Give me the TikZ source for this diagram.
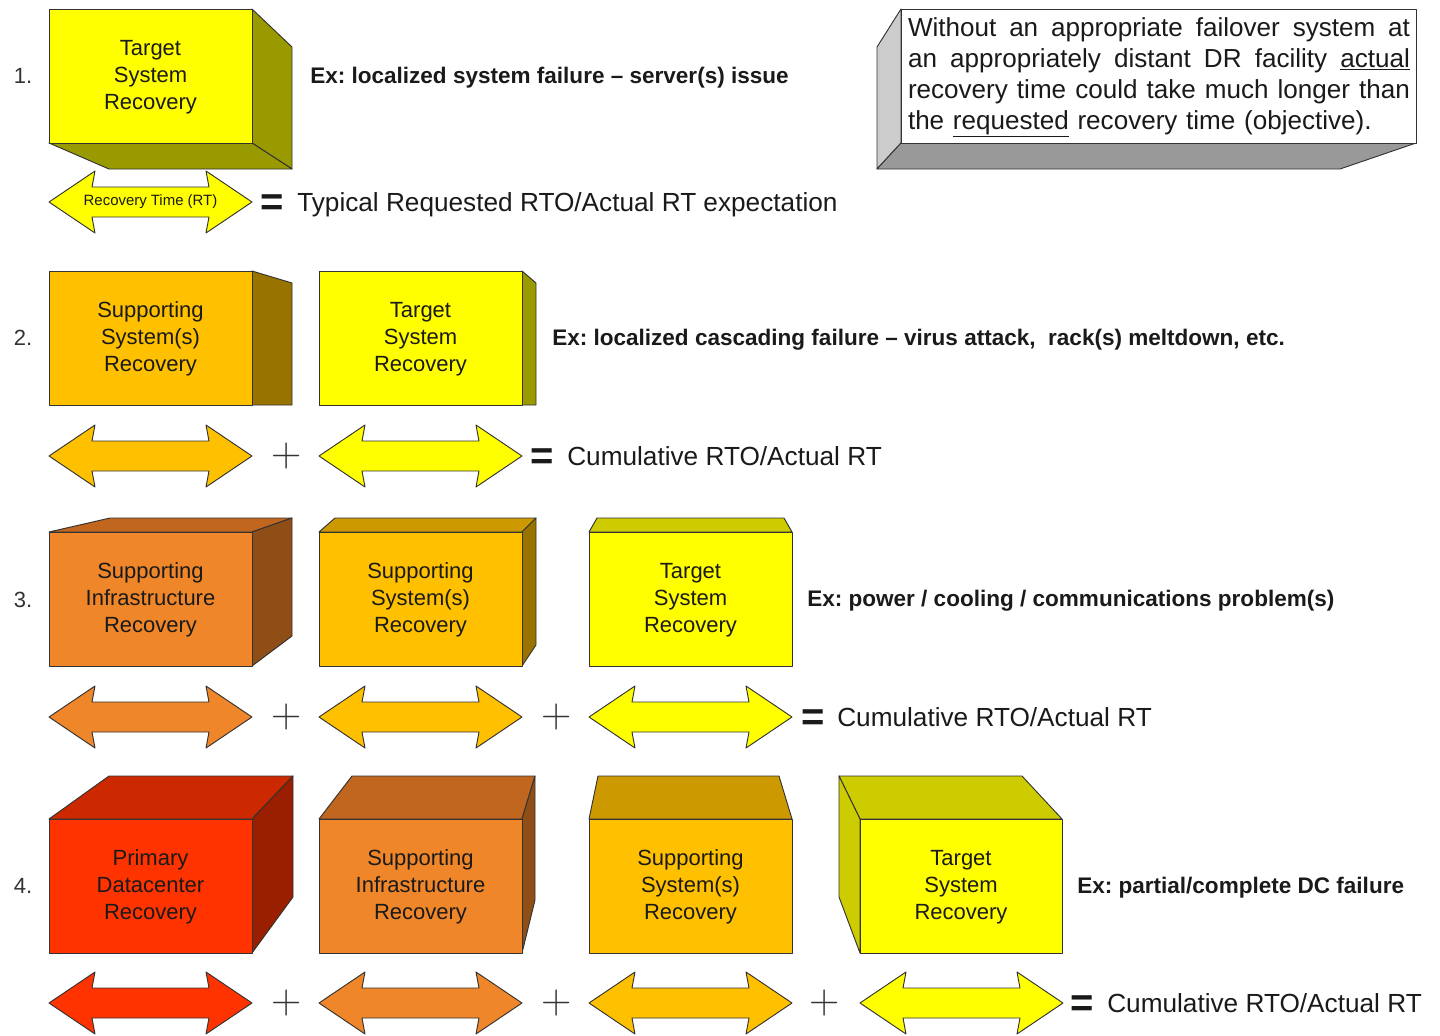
\documentclass[tikz,border=0pt]{standalone}
\usepackage{fontspec}
\setsansfont{Liberation Sans}
\renewcommand{\familydefault}{\sfdefault}
\frenchspacing
\definecolor{ylwF}{HTML}{FFFF00}
\definecolor{ylwS}{HTML}{999900}
\definecolor{ylwT}{HTML}{CCCC00}
\definecolor{ambF}{HTML}{FFC000}
\definecolor{ambS}{HTML}{997300}
\definecolor{ambT}{HTML}{CC9900}
\definecolor{orgF}{HTML}{F0862A}
\definecolor{orgS}{HTML}{904E17}
\definecolor{orgT}{HTML}{C0661F}
\definecolor{redF}{HTML}{FF3300}
\definecolor{redS}{HTML}{991F00}
\definecolor{redT}{HTML}{CC2900}
\definecolor{greyL}{HTML}{CCCCCC}
\definecolor{greyB}{HTML}{999999}
\definecolor{ink}{HTML}{1A1A1A}
\newcommand{\rtarrow}[3]{\draw[face, fill=#3, shift={(#1,#2)}] (0,0) -- (46,-31) -- (43,-15) -- (160,-15) -- (157,-31) -- (203,0) -- (157,31) -- (160,15) -- (43,15) -- (46,31) -- cycle;}
\newcommand{\notefont}{\fontsize{19.55}{23.25}\selectfont}
\newcommand{\jline}[1]{\leavevmode\hbox to 376.5pt{\spaceskip=0.278em plus 1fil\relax #1}}
\begin{document}
\begin{tikzpicture}[x=0.75pt,y=-0.75pt,
  face/.style={draw=black!80, line width=0.7pt, line join=round},
  boxtxt/.style={font=\fontsize{16.5}{20.25}\selectfont, align=center, text=ink, inner sep=0pt},
  numtxt/.style={font=\fontsize{16.5}{20}\selectfont, text=black!80, anchor=base, inner sep=0pt},
  extxt/.style={font=\fontsize{16.9}{20}\selectfont\bfseries, text=ink, anchor=base west, inner sep=0pt},
  bigtxt/.style={font=\fontsize{19.65}{23}\selectfont, text=ink, anchor=base west, inner sep=0pt},
  plustxt/.style={font=\rmfamily\fontsize{31.5}{32}\selectfont, text=black!80, inner sep=0pt},
  eqtxt/.style={font=\bfseries\fontsize{30}{30}\selectfont, text=ink, anchor=base, inner sep=0pt},
  smalltxt/.style={font=\fontsize{11.2}{13}\selectfont, text=ink, inner sep=0pt}
]
\useasboundingbox (0,0) rectangle (1440,1036);

% ---------- Row 1 ----------
\node[numtxt] (n1) at (23,83) {1.};
\draw[face, fill=ylwS] (252,9) -- (292,47) -- (292,169) -- (252,143) -- cycle;
\draw[face, fill=ylwS] (49,143) -- (109,169) -- (292,169) -- (252,143) -- cycle;
\draw[face, fill=ylwF] (49,9) rectangle (252,143);
\node[boxtxt] (b1) at (150.5,77) {Target\\System\\Recovery};
\node[extxt] (ex1) at (310,83) {Ex: localized system failure -- server(s) issue};
\rtarrow{49}{202}{ylwF}
\node[smalltxt] (rt1) at (150.5,202) {Recovery Time (RT)};
\node[eqtxt] (eq1) at (272,215) {=};
\node[bigtxt] (res1) at (297,211.4) {Typical Requested RTO/Actual RT expectation};

% ---------- Note ----------
\draw[face, fill=greyL] (901,9) -- (877,47) -- (877,169) -- (901,143) -- cycle;
\draw[face, fill=greyB] (877,169) -- (1340,169) -- (1416,143) -- (901,143) -- cycle;
\draw[face, fill=white] (901,9) rectangle (1416,143);
\node[font=\notefont, text=ink, text width=376.5pt, align=left, inner sep=0pt] (note) at (1159,77.5)
{\jline{Without an appropriate failover system at}\\
 \jline{an appropriately distant DR facility \underline{actual}}\\
 \jline{recovery time could take much longer than}\\
 the \underline{requested} recovery time (objective).};

% ---------- Row 2 ----------
\node[numtxt] (n2) at (23,345) {2.};
\draw[face, fill=ambS] (252,271) -- (292,283) -- (292,405) -- (252,405) -- cycle;
\draw[face, fill=ambF] (49,271) rectangle (252,405);
\node[boxtxt] (b2a) at (150.5,339) {Supporting\\System(s)\\Recovery};
\draw[face, fill=ylwS] (522,271) -- (536,283) -- (536,405) -- (522,405) -- cycle;
\draw[face, fill=ylwF] (319,271) rectangle (522,405);
\node[boxtxt] (b2b) at (420.5,339) {Target\\System\\Recovery};
\node[extxt] (ex2) at (552,345) {Ex: localized cascading failure -- virus attack,\ \ rack(s) meltdown, etc.};
\rtarrow{49}{456}{ambF}
\node[plustxt] (p2a) at (287,456) {+};
\rtarrow{319}{456}{ylwF}
\node[eqtxt] (eq2) at (542,469) {=};
\node[bigtxt] (res2) at (567,465.4) {Cumulative RTO/Actual RT};

% ---------- Row 3 ----------
\node[numtxt] (n3) at (23,607) {3.};
\draw[face, fill=orgT] (49,532) -- (110,518) -- (292,518) -- (252,532) -- cycle;
\draw[face, fill=orgS] (252,532) -- (292,518) -- (292,636) -- (252,666) -- cycle;
\draw[face, fill=orgF] (49,532) rectangle (252,666);
\node[boxtxt] (b3a) at (150.5,600) {Supporting\\Infrastructure\\Recovery};
\draw[face, fill=ambT] (319,532) -- (335,518) -- (536,518) -- (522,532) -- cycle;
\draw[face, fill=ambS] (522,532) -- (536,518) -- (536,645) -- (522,666) -- cycle;
\draw[face, fill=ambF] (319,532) rectangle (522,666);
\node[boxtxt] (b3b) at (420.5,600) {Supporting\\System(s)\\Recovery};
\draw[face, fill=ylwT] (589,532) -- (597,518) -- (784,518) -- (792,532) -- cycle;
\draw[face, fill=ylwF] (589,532) rectangle (792,666);
\node[boxtxt] (b3c) at (690.5,600) {Target\\System\\Recovery};
\node[extxt] (ex3) at (807,606) {Ex: power / cooling / communications problem(s)};
\rtarrow{49}{717}{orgF}
\node[plustxt] (p3a) at (287,717) {+};
\rtarrow{319}{717}{ambF}
\node[plustxt] (p3b) at (557,717) {+};
\rtarrow{589}{717}{ylwF}
\node[eqtxt] (eq3) at (813,730) {=};
\node[bigtxt] (res3) at (837,726.4) {Cumulative RTO/Actual RT};

% ---------- Row 4 ----------
\node[numtxt] (n4) at (23,893) {4.};
\draw[face, fill=redT] (49,819) -- (109,776) -- (293,776) -- (252,819) -- cycle;
\draw[face, fill=redS] (252,819) -- (293,776) -- (293,897) -- (252,953) -- cycle;
\draw[face, fill=redF] (49,819) rectangle (252,953);
\node[boxtxt] (b4a) at (150.5,887) {Primary\\Datacenter\\Recovery};
\draw[face, fill=orgT] (319,819) -- (352,776) -- (535,776) -- (522,819) -- cycle;
\draw[face, fill=orgS] (522,819) -- (535,776) -- (535,900) -- (522,953) -- cycle;
\draw[face, fill=orgF] (319,819) rectangle (522,953);
\node[boxtxt] (b4b) at (420.5,887) {Supporting\\Infrastructure\\Recovery};
\draw[face, fill=ambT] (589,819) -- (598,776) -- (779,776) -- (792,819) -- cycle;
\draw[face, fill=ambF] (589,819) rectangle (792,953);
\node[boxtxt] (b4c) at (690.5,887) {Supporting\\System(s)\\Recovery};
\draw[face, fill=ylwT] (860,819) -- (839,776) -- (1022,776) -- (1062,819) -- cycle;
\draw[face, fill=ylwT] (860,819) -- (839,776) -- (839,897) -- (860,953) -- cycle;
\draw[face, fill=ylwF] (860,819) rectangle (1062,953);
\node[boxtxt] (b4d) at (961,887) {Target\\System\\Recovery};
\node[extxt] (ex4) at (1077,893) {Ex: partial/complete DC failure};
\rtarrow{49}{1003}{redF}
\node[plustxt] (p4a) at (287,1003) {+};
\rtarrow{319}{1003}{orgF}
\node[plustxt] (p4b) at (557,1003) {+};
\rtarrow{589}{1003}{ambF}
\node[plustxt] (p4c) at (825,1003) {+};
\rtarrow{860}{1003}{ylwF}
\node[eqtxt] (eq4) at (1082,1016) {=};
\node[bigtxt] (res4) at (1107,1012.4) {Cumulative RTO/Actual RT};
\end{tikzpicture}
\end{document}
